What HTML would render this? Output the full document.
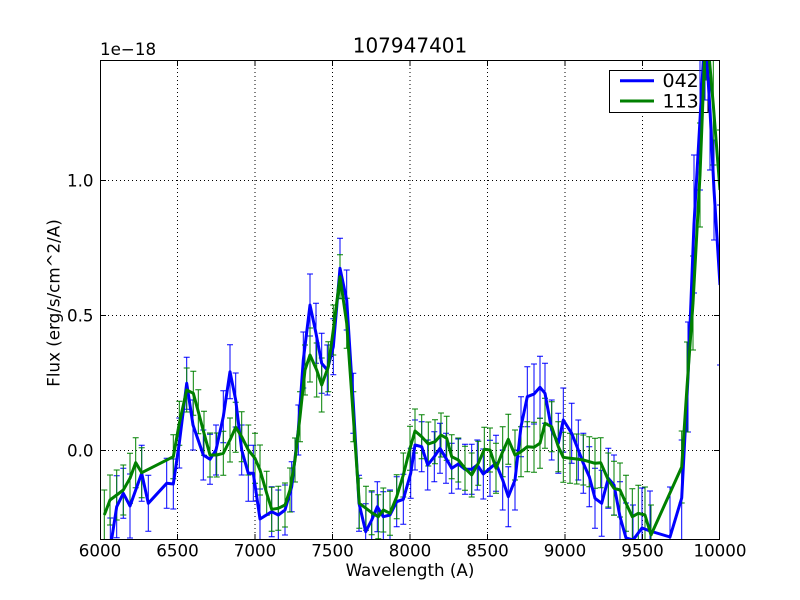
<!DOCTYPE html>
<html>
<head>
<meta charset="utf-8">
<style>
html,body{margin:0;padding:0;background:#fff;}
svg{display:block;}
text{font-family:"DejaVu Sans","Liberation Sans",sans-serif;fill:#000;}
</style>
</head>
<body>
<svg width="800" height="600" viewBox="0 0 800 600" xmlns="http://www.w3.org/2000/svg">
<defs>
<clipPath id="ax"><rect x="100" y="60" width="620" height="480"/></clipPath>
</defs>
<rect x="0" y="0" width="800" height="600" fill="#fff"/>
<g stroke="#000" stroke-width="1" stroke-dasharray="1,3" fill="none">
<path d="M177.5 60V540M255 60V540M332.5 60V540M410 60V540M487.5 60V540M565 60V540M642.5 60V540"/>
<path d="M100 450.5H720M100 315.5H720M100 180.5H720"/>
</g>
<rect x="609.5" y="70.5" width="98.5" height="42" fill="#fff" stroke="#000" stroke-width="1"/>
<line x1="620" y1="80.7" x2="654" y2="80.7" stroke="#0000ff" stroke-width="3"/>
<line x1="620" y1="101" x2="654" y2="101" stroke="#008000" stroke-width="3"/>
<text x="662.5" y="87" font-size="19">042</text>
<text x="662.5" y="107.3" font-size="19">113</text>
<g clip-path="url(#ax)" fill="none">
<path stroke="#0000ff" stroke-width="1" d="M104 555V615M101 555H107M101 615H107M110.3 518V578M107.3 518H113.3M107.3 578H113.3M116.7 475.7V537.7M113.7 475.7H119.7M113.7 537.7H119.7M123.3 468.3V518.3M120.3 468.3H126.3M120.3 518.3H126.3M130 474V538M127 474H133M127 538H133M141.7 445.3V501.3M138.7 445.3H144.7M138.7 501.3H144.7M148.3 475.3V531.3M145.3 475.3H151.3M145.3 531.3H151.3M166.7 458.3V508.3M163.7 458.3H169.7M163.7 508.3H169.7M173.3 459V509M170.3 459H176.3M170.3 509H176.3M179.3 418V468M176.3 418H182.3M176.3 468H182.3M186.7 357.3V409.3M183.7 357.3H189.7M183.7 409.3H189.7M193 400V450M190 400H196M190 450H196M203.3 430V480M200.3 430H206.3M200.3 480H206.3M210 434.3V484.3M207 434.3H213M207 484.3H213M216 425V475M213 425H219M213 475H219M223.3 390.7V442.7M220.3 390.7H226.3M220.3 442.7H226.3M230 344.7V398.7M227 344.7H233M227 398.7H233M235.7 373V427M232.7 373H238.7M232.7 427H238.7M241.7 425V475M238.7 425H244.7M238.7 475H244.7M248.3 445.3V501.3M245.3 445.3H251.3M245.3 501.3H251.3M253.3 445.3V501.3M250.3 445.3H256.3M250.3 501.3H256.3M260 489V549M257 489H263M257 549H263M271.7 486.7V536.7M268.7 486.7H274.7M268.7 536.7H274.7M278.3 490V540M275.3 490H281.3M275.3 540H281.3M285 485V535M282 485H288M282 535H288M291.7 461.7V511.7M288.7 461.7H294.7M288.7 511.7H294.7M298.3 405V455M295.3 405H301.3M295.3 455H301.3M303.3 332V388M300.3 332H306.3M300.3 388H306.3M310 274V336M307 274H313M307 336H313M316 303.3V363.3M313 303.3H319M313 363.3H319M321.7 333.3V393.3M318.7 333.3H324.7M318.7 393.3H324.7M327.3 345V395M324.3 345H330.3M324.3 395H330.3M333.3 318.7V374.7M330.3 318.7H336.3M330.3 374.7H336.3M340 238.3V298.3M337 238.3H343M337 298.3H343M346.7 270V330M343.7 270H349.7M343.7 330H349.7M353.3 373.3V433.3M350.3 373.3H356.3M350.3 433.3H356.3M359 475.3V531.3M356 475.3H362M356 531.3H362M365.7 503.7V559.7M362.7 503.7H368.7M362.7 559.7H368.7M371.7 492V548M368.7 492H374.7M368.7 548H374.7M377.3 481.7V531.7M374.3 481.7H380.3M374.3 531.7H380.3M383.3 491.7V541.7M380.3 491.7H386.3M380.3 541.7H386.3M390 490V540M387 490H393M387 540H393M396.7 476.7V526.7M393.7 476.7H399.7M393.7 526.7H399.7M403.3 474.3V524.3M400.3 474.3H406.3M400.3 524.3H406.3M410.7 448.3V498.3M407.7 448.3H413.7M407.7 498.3H413.7M415 420V470M412 420H418M412 470H418M421.7 421.7V471.7M418.7 421.7H424.7M418.7 471.7H424.7M427.7 440V490M424.7 440H430.7M424.7 490H430.7M434.3 431.7V481.7M431.3 431.7H437.3M431.3 481.7H437.3M440 423.3V473.3M437 423.3H443M437 473.3H443M446 433.3V483.3M443 433.3H449M443 483.3H449M451.7 443.3V493.3M448.7 443.3H454.7M448.7 493.3H454.7M458.3 439V489M455.3 439H461.3M455.3 489H461.3M465 444.3V494.3M462 444.3H468M462 494.3H468M471.7 444.3V494.3M468.7 444.3H474.7M468.7 494.3H474.7M477.3 440V490M474.3 440H480.3M474.3 490H480.3M483.3 449V499M480.3 449H486.3M480.3 499H486.3M490 440.3V496.3M487 440.3H493M487 496.3H493M496 435.3V491.3M493 435.3H499M493 491.3H499M502.7 450V510M499.7 450H505.7M499.7 510H505.7M508.3 466.7V526.7M505.3 466.7H511.3M505.3 526.7H511.3M515 450V510M512 450H518M512 510H518M521 396.7V456.7M518 396.7H524M518 456.7H524M527.3 366.7V426.7M524.3 366.7H530.3M524.3 426.7H530.3M534 364V424M531 364H537M531 424H537M540 356.3V418.3M537 356.3H543M537 418.3H543M545 363.3V423.3M542 363.3H548M542 423.3H548M551.7 400V460M548.7 400H554.7M548.7 460H554.7M558.3 413.3V473.3M555.3 413.3H561.3M555.3 473.3H561.3M563.3 388V452M560.3 388H566.3M560.3 452H566.3M571.7 403.3V463.3M568.7 403.3H574.7M568.7 463.3H574.7M578.3 420V480M575.3 420H581.3M575.3 480H581.3M583.3 433.3V493.3M580.3 433.3H586.3M580.3 493.3H586.3M589.3 446.7V506.7M586.3 446.7H592.3M586.3 506.7H592.3M595 468.3V528.3M592 468.3H598M592 528.3H598M601.7 470.3V536.3M598.7 470.3H604.7M598.7 536.3H604.7M608.3 448.3V508.3M605.3 448.3H611.3M605.3 508.3H611.3M614 455V515M611 455H617M611 515H617M620 481.7V551.7M617 481.7H623M617 551.7H623M626 503V573M623 503H629M623 573H629M633 505V575M630 505H636M630 575H636M642 488V568M639 488H645M639 568H645M650 491V571M647 491H653M647 571H653M670 487V587M667 487H673M667 587H673M681.7 440V556M678.7 440H684.7M678.7 556H684.7M688 322V432M685 322H691M685 432H691M694 155V293M691 155H697M691 293H697M700 50V190M697 50H703M697 190H703M705 -40V100M702 -40H708M702 100H708M710 50V170M707 50H713M707 170H713M714 140V240M711 140H717M711 240H717M720 205V365M717 205H723M717 365H723"/>
<path stroke="#008000" stroke-width="1" d="M104.3 490V540M101.3 490H107.3M101.3 540H107.3M110 475V525M107 475H113M107 525H113M116.7 470V520M113.7 470H119.7M113.7 520H119.7M123.3 465V515M120.3 465H126.3M120.3 515H126.3M130 453.3V503.3M127 453.3H133M127 503.3H133M135.7 437.7V487.7M132.7 437.7H138.7M132.7 487.7H138.7M141.7 447.7V497.7M138.7 447.7H144.7M138.7 497.7H144.7M173.3 434.7V478.7M170.3 434.7H176.3M170.3 478.7H176.3M179.3 401.3V445.3M176.3 401.3H182.3M176.3 445.3H182.3M186.7 368V412M183.7 368H189.7M183.7 412H189.7M193.3 371.3V415.3M190.3 371.3H196.3M190.3 415.3H196.3M198.3 389.7V433.7M195.3 389.7H201.3M195.3 433.7H201.3M204 411.3V455.3M201 411.3H207M201 455.3H207M210 433V477M207 433H213M207 477H213M216.7 433V477M213.7 433H219.7M213.7 477H219.7M223.3 431.3V475.3M220.3 431.3H226.3M220.3 475.3H226.3M230 418V462M227 418H233M227 462H233M235.7 402.3V452.3M232.7 402.3H238.7M232.7 452.3H238.7M241.7 411.7V461.7M238.7 411.7H244.7M238.7 461.7H244.7M248.3 425V475M245.3 425H251.3M245.3 475H251.3M255 433.3V483.3M252 433.3H258M252 483.3H258M260 445V495M257 445H263M257 495H263M266.7 471.3V515.3M263.7 471.3H269.7M263.7 515.3H269.7M271.7 487.3V531.3M268.7 487.3H274.7M268.7 531.3H274.7M278.3 486.3V530.3M275.3 486.3H281.3M275.3 530.3H281.3M285 483V527M282 483H288M282 527H288M290 468V512M287 468H293M287 512H293M295 438V482M292 438H298M292 482H298M300 391.7V441.7M297 391.7H303M297 441.7H303M305 345V395M302 345H308M302 395H308M310 328V382M307 328H313M307 382H313M316.7 343V397M313.7 343H319.7M313.7 397H319.7M321.7 358V412M318.7 358H324.7M318.7 412H324.7M328.3 341.7V391.7M325.3 341.7H331.3M325.3 391.7H331.3M333.3 305V355M330.3 305H336.3M330.3 355H336.3M340 254.7V298.7M337 254.7H343M337 298.7H343M346.7 298.3V348.3M343.7 298.3H349.7M343.7 348.3H349.7M353.3 391.7V441.7M350.3 391.7H356.3M350.3 441.7H356.3M359.3 478.3V528.3M356.3 478.3H362.3M356.3 528.3H362.3M366 486.3V530.3M363 486.3H369M363 530.3H369M371.7 490.7V534.7M368.7 490.7H374.7M368.7 534.7H374.7M378.3 494.7V538.7M375.3 494.7H381.3M375.3 538.7H381.3M383.3 488V532M380.3 488H386.3M380.3 532H386.3M390 491.3V535.3M387 491.3H393M387 535.3H393M396.7 474.7V518.7M393.7 474.7H399.7M393.7 518.7H399.7M403.3 453V497M400.3 453H406.3M400.3 497H406.3M410 426.3V470.3M407 426.3H413M407 470.3H413M415 409V453M412 409H418M412 453H418M421.7 414.7V458.7M418.7 414.7H424.7M418.7 458.7H424.7M428.3 422V466M425.3 422H431.3M425.3 466H431.3M435 419.7V463.7M432 419.7H438M432 463.7H438M441 413V457M438 413H444M438 457H444M446.7 416.3V460.3M443.7 416.3H449.7M443.7 460.3H449.7M451.7 434.7V478.7M448.7 434.7H454.7M448.7 478.7H454.7M458.3 438V482M455.3 438H461.3M455.3 482H461.3M465 446.3V490.3M462 446.3H468M462 490.3H468M471.7 453V497M468.7 453H474.7M468.7 497H474.7M478.3 441.3V485.3M475.3 441.3H481.3M475.3 485.3H481.3M484.3 427.3V471.3M481.3 427.3H487.3M481.3 471.3H487.3M490 428V472M487 428H493M487 472H493M496 443.3V493.3M493 443.3H499M493 493.3H499M502.7 426.7V476.7M499.7 426.7H505.7M499.7 476.7H505.7M508.3 414.3V464.3M505.3 414.3H511.3M505.3 464.3H511.3M515 430V480M512 430H518M512 480H518M521 426.7V476.7M518 426.7H524M518 476.7H524M527.3 421.7V471.7M524.3 421.7H530.3M524.3 471.7H530.3M534 422.3V472.3M531 422.3H537M531 472.3H537M540 418.3V468.3M537 418.3H543M537 468.3H543M545 398.3V448.3M542 398.3H548M542 448.3H548M551.7 401.7V451.7M548.7 401.7H554.7M548.7 451.7H554.7M558.3 421.7V471.7M555.3 421.7H561.3M555.3 471.7H561.3M563.3 432.3V482.3M560.3 432.3H566.3M560.3 482.3H566.3M570 433.3V483.3M567 433.3H573M567 483.3H573M576.7 434V484M573.7 434H579.7M573.7 484H579.7M583.3 435V485M580.3 435H586.3M580.3 485H586.3M589.3 436.7V486.7M586.3 436.7H592.3M586.3 486.7H592.3M595 438.3V488.3M592 438.3H598M592 488.3H598M600.7 437.7V487.7M597.7 437.7H603.7M597.7 487.7H603.7M608.3 453V507M605.3 453H611.3M605.3 507H611.3M614 461.3V515.3M611 461.3H617M611 515.3H617M620 463V517M617 463H623M617 517H623M626 475.3V531.3M623 475.3H629M623 531.3H629M632.3 488.7V544.7M629.3 488.7H635.3M629.3 544.7H635.3M638.3 485.3V541.3M635.3 485.3H641.3M635.3 541.3H641.3M645 487V543M642 487H648M642 543H648M651 505V565M648 505H654M648 565H654M681.7 431V503M678.7 431H684.7M678.7 503H684.7M687 342V432M684 342H690M684 432H690M693 256V350M690 256H696M690 350H696M700 123V227M697 123H703M697 227H703M706 -40V80M703 -40H709M703 80H709M713.3 45V165M710.3 45H716.3M710.3 165H716.3M720 130V250M717 130H723M717 250H723"/>
<polyline stroke="#0000ff" stroke-width="3" stroke-linejoin="round" points="104,585 110.3,548 116.7,506.7 123.3,493.3 130,506 141.7,473.3 148.3,503.3 166.7,483.3 173.3,484 179.3,443 186.7,383.3 193,425 203.3,455 210,459.3 216,450 223.3,416.7 230,371.7 235.7,400 241.7,450 248.3,473.3 253.3,473.3 260,519 271.7,511.7 278.3,515 285,510 291.7,486.7 298.3,430 303.3,360 310,305 316,333.3 321.7,363.3 327.3,370 333.3,346.7 340,268.3 346.7,300 353.3,403.3 359,503.3 365.7,531.7 371.7,520 377.3,506.7 383.3,516.7 390,515 396.7,501.7 403.3,499.3 410.7,473.3 415,445 421.7,446.7 427.7,465 434.3,456.7 440,448.3 446,458.3 451.7,468.3 458.3,464 465,469.3 471.7,469.3 477.3,465 483.3,474 490,468.3 496,463.3 502.7,480 508.3,496.7 515,480 521,426.7 527.3,396.7 534,394 540,387.3 545,393.3 551.7,430 558.3,443.3 563.3,420 571.7,433.3 578.3,450 583.3,463.3 589.3,476.7 595,498.3 601.7,503.3 608.3,478.3 614,485 620,516.7 626,538 633,540 642,528 650,531 670,537 681.7,498 688,377 694,224 700,120 705,30 710,110 714,190 720,285"/>
<polyline stroke="#008000" stroke-width="3" stroke-linejoin="round" points="104.3,515 110,500 116.7,495 123.3,490 130,478.3 135.7,462.7 141.7,472.7 173.3,456.7 179.3,423.3 186.7,390 193.3,393.3 198.3,411.7 204,433.3 210,455 216.7,455 223.3,453.3 230,440 235.7,427.3 241.7,436.7 248.3,450 255,458.3 260,470 266.7,493.3 271.7,509.3 278.3,508.3 285,505 290,490 295,460 300,416.7 305,370 310,355 316.7,370 321.7,385 328.3,366.7 333.3,330 340,276.7 346.7,323.3 353.3,416.7 359.3,503.3 366,508.3 371.7,512.7 378.3,516.7 383.3,510 390,513.3 396.7,496.7 403.3,475 410,448.3 415,431 421.7,436.7 428.3,444 435,441.7 441,435 446.7,438.3 451.7,456.7 458.3,460 465,468.3 471.7,475 478.3,463.3 484.3,449.3 490,450 496,468.3 502.7,451.7 508.3,439.3 515,455 521,451.7 527.3,446.7 534,447.3 540,443.3 545,423.3 551.7,426.7 558.3,446.7 563.3,457.3 570,458.3 576.7,459 583.3,460 589.3,461.7 595,463.3 600.7,462.7 608.3,480 614,488.3 620,490 626,503.3 632.3,516.7 638.3,513.3 645,515 651,535 681.7,467 687,387 693,303 700,175 706,20 713.3,105 720,190"/>
</g>
<rect x="100.5" y="60.5" width="619" height="479" fill="none" stroke="#000" stroke-width="1"/>
<g stroke="#000" stroke-width="1" fill="none">
<path d="M100.5 540V534M177.5 540V534M255 540V534M332.5 540V534M410 540V534M487.5 540V534M565 540V534M642.5 540V534M719.5 540V534"/>
<path d="M100.5 60V66M177.5 60V66M255 60V66M332.5 60V66M410 60V66M487.5 60V66M565 60V66M642.5 60V66M719.5 60V66"/>
<path d="M100 450.5H106M100 315.5H106M100 180.5H106"/>
<path d="M720 450.5H714M720 315.5H714M720 180.5H714"/>
</g>
<g font-size="16.7" text-anchor="middle">
<text x="100" y="556.7">6000</text>
<text x="177.5" y="556.7">6500</text>
<text x="255" y="556.7">7000</text>
<text x="332.5" y="556.7">7500</text>
<text x="410" y="556.7">8000</text>
<text x="487.5" y="556.7">8500</text>
<text x="565" y="556.7">9000</text>
<text x="642.5" y="556.7">9500</text>
<text x="720" y="556.7">10000</text>
</g>
<g font-size="16.7" text-anchor="end">
<text x="93.5" y="456.5">0.0</text>
<text x="93.5" y="321.5">0.5</text>
<text x="93.5" y="186.5">1.0</text>
</g>
<text x="100" y="55" font-size="16.7">1e−18</text>
<text x="410" y="52.5" font-size="20" text-anchor="middle">107947401</text>
<text x="410" y="576" font-size="16.7" text-anchor="middle">Wavelength (A)</text>
<text x="0" y="0" font-size="16.7" text-anchor="middle" transform="translate(59.5,303) rotate(-90)">Flux (erg/s/cm^2/A)</text>
</svg>
</body>
</html>
